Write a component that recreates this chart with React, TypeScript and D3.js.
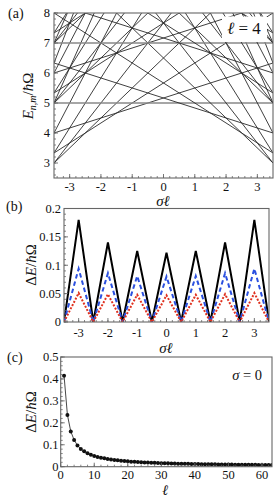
import React from "react";
import * as d3 from "d3";

// ---------- data ----------
// panel (a): level families E = band + k*(m^2 - 2 m σℓ)
const bandEnergies = [5, 7, 9];
const angularMomenta = [-10, -9, -8, -7, -6, -5, -4, -3, -2, -1, 0, 1, 2, 3, 4, 5, 6, 7, 8, 9, 10];
const levelCurvature = 0.1667;
const sigmaRange = [-3.5, 3.5];

// panel (b): gap vs σℓ
const gapX = [-3.5, -3, -2.5, -2, -1.5, -1, -0.5, 0, 0.5, 1, 1.5, 2, 2.5, 3, 3.5];
const gapBlack = [0, 0.18, 0, 0.14, 0, 0.125, 0, 0.122, 0, 0.125, 0, 0.14, 0, 0.18, 0];
const gapBlue = [0, 0.094, 0, 0.086, 0, 0.081, 0, 0.08, 0, 0.081, 0, 0.086, 0, 0.094, 0];
const gapRed = [0, 0.051, 0, 0.049, 0, 0.048, 0, 0.047, 0, 0.048, 0, 0.049, 0, 0.051, 0];

// panel (c): gap at σ=0 vs ℓ
const ells = [1,2,3,4,5,6,7,8,9,10,11,12,13,14,15,16,17,18,19,20,21,22,23,24,25,26,27,28,29,30,31,32,33,34,35,36,37,38,39,40,41,42,43,44,45,46,47,48,49,50,51,52,53,54,55,56,57,58,59,60,61,62,63,64];
const gapEll = [0.415,0.236,0.161,0.122,0.097,0.081,0.07,0.061,0.054,0.049,0.044,0.041,0.038,0.035,0.033,0.031,0.029,0.027,0.026,0.0245,0.023,0.022,0.021,0.02,0.0196,0.019,0.018,0.0175,0.017,0.016,0.0158,0.0153,0.0148,0.0144,0.014,0.0136,0.0132,0.0129,0.0126,0.0122,0.012,0.0117,0.0114,0.0111,0.0109,0.0106,0.0104,0.0102,0.01,0.0098,0.0096,0.0094,0.0092,0.0091,0.0089,0.0087,0.0086,0.0084,0.0083,0.0082,0.008,0.0079,0.0078,0.0077];

const ticksAX = [-3, -2, -1, 0, 1, 2, 3];
const ticksAY = [3, 4, 5, 6, 7, 8];
const ticksBY = [0, 0.05, 0.1, 0.15, 0.2];
const ticksCX = [0, 10, 20, 30, 40, 50, 60];
const ticksCY = [0, 0.1, 0.2, 0.3, 0.4, 0.5];

const FONT = "Liberation Serif, Times New Roman, DejaVu Serif, serif";
const FRAME = "#666";

function minorTicks(domain: number[], step: number) {
  const out: number[] = [];
  const s = Math.ceil(domain[0] / step - 1e-9);
  const e = Math.floor(domain[1] / step + 1e-9);
  for (let i = s; i <= e; i++) out.push(+(i * step).toFixed(6));
  return out;
}

const txt = (extra: any = {}) => ({ fontFamily: FONT, fill: "#111", ...extra });

function Frame({ x, y, xt, yt, xMinor, yMinor, xLabOff, yLabX }: any) {
  const [x0, x1] = x.range();
  const [y0, y1] = y.range(); // y0 bottom
  return (
    <g>
      {xMinor.map((v: number, i: number) => (
        <line key={"xm" + i} x1={x(v)} x2={x(v)} y1={y0} y2={y0 - 2} stroke={FRAME} strokeWidth={0.8} />
      ))}
      {yMinor.map((v: number, i: number) => (
        <line key={"ym" + i} x1={x0} x2={x0 + 2} y1={y(v)} y2={y(v)} stroke={FRAME} strokeWidth={0.8} />
      ))}
      {xt.map((v: number, i: number) => (
        <g key={"xt" + i}>
          <line x1={x(v)} x2={x(v)} y1={y0} y2={y0 - 4} stroke={FRAME} strokeWidth={0.9} />
          <text x={x(v)} y={y0 + xLabOff} textAnchor="middle" fontSize={12.5} style={txt()}>{String(v)}</text>
        </g>
      ))}
      {yt.map((v: number, i: number) => (
        <g key={"yt" + i}>
          <line x1={x0} x2={x0 + 4} y1={y(v)} y2={y(v)} stroke={FRAME} strokeWidth={0.9} />
          <text x={yLabX} y={y(v) + 4.3} textAnchor="end" fontSize={12.5} style={txt()}>{String(v)}</text>
        </g>
      ))}
      <rect x={x0} y={y1} width={x1 - x0} height={y0 - y1} fill="none" stroke={FRAME} strokeWidth={1.1} />
    </g>
  );
}

export default function App() {
  // panel a
  const xA = d3.scaleLinear().domain(sigmaRange).range([54, 273]);
  const yA = d3.scaleLinear().domain([2.5, 8]).range([178, 13]);
  const lineA = d3.line<number[]>().x((d) => xA(d[0])).y((d) => yA(d[1]));
  const levels: { d: string; flat: boolean }[] = [];
  bandEnergies.forEach((b) => {
    angularMomenta.forEach((m) => {
      const pts = sigmaRange.map((s) => [s, b + levelCurvature * (m * m - 2 * m * s)]);
      levels.push({ d: lineA(pts) as string, flat: m === 0 });
    });
  });

  // panel b
  const xB = d3.scaleLinear().domain(sigmaRange).range([64, 269]);
  const yB = d3.scaleLinear().domain([0, 0.2]).range([322, 208.5]);
  const lineB = d3.line<number>().x((_, i) => xB(gapX[i])).y((d) => yB(d));

  // panel c
  const xC = d3.scaleLinear().domain([0, 63]).range([60.7, 272]);
  const yC = d3.scaleLinear().domain([0, 0.5]).range([466.7, 357]);
  const lineC = d3.line<number>().x((_, i) => xC(ells[i])).y((d) => yC(d));

  return (
    <svg width={278} height={497} style={{ position: "absolute", left: 0, top: 0, background: "#fff" }}>
      <defs>
        <clipPath id="ca"><rect x={54} y={13} width={219} height={165} /></clipPath>
        <clipPath id="cb"><rect x={64} y={208.5} width={205} height={113.5} /></clipPath>
        <clipPath id="cc"><rect x={60.7} y={357} width={211.3} height={109.7} /></clipPath>
      </defs>

      {/* ---------- panel a ---------- */}
      <g clipPath="url(#ca)">
        {levels.map((l, i) => (
          <path key={i} d={l.d} fill="none" stroke={l.flat ? "#888" : "#2a2a2a"} strokeWidth={l.flat ? 1.7 : 0.9} />
        ))}
        <rect x={222} y={16.5} width={45} height={25.5} fill="#fff" />
      </g>
      <text x={244} y={34} textAnchor="middle" fontSize={17} style={txt()}>
        <tspan fontStyle="italic">ℓ</tspan> = 4
      </text>
      <Frame x={xA} y={yA} xt={ticksAX} yt={ticksAY} xMinor={minorTicks(sigmaRange, 0.2)} yMinor={minorTicks([2.5, 8], 0.2)} xLabOff={13} yLabX={50} />
      <text x={8} y={18} fontSize={14} style={txt()}>(a)</text>
      <text transform="translate(33,96) rotate(-90)" textAnchor="middle" fontSize={15} style={txt()}>
        <tspan fontStyle="italic">E</tspan>
        <tspan fontStyle="italic" fontSize={10} dy={3}>n,m</tspan>
        <tspan dy={-3}>/</tspan>
        <tspan fontStyle="italic">ħ</tspan>
        <tspan>Ω</tspan>
      </text>
      <text x={163} y={206} textAnchor="middle" fontSize={15} fontStyle="italic" style={txt()}>σℓ</text>

      {/* ---------- panel b ---------- */}
      <g clipPath="url(#cb)">
        <path d={lineB(gapBlack) as string} fill="none" stroke="#000" strokeWidth={2} strokeLinejoin="miter" />
        <path d={lineB(gapBlue) as string} fill="none" stroke="#2b50e0" strokeWidth={2} strokeDasharray="4.5,3" />
        <path d={lineB(gapRed) as string} fill="none" stroke="#e0301e" strokeWidth={2} strokeDasharray="2,1.6" />
      </g>
      <Frame x={xB} y={yB} xt={ticksAX} yt={ticksBY} xMinor={minorTicks(sigmaRange, 0.2)} yMinor={minorTicks([0, 0.2], 0.01)} xLabOff={15} yLabX={61} />
      <text x={6} y={211} fontSize={14} style={txt()}>(b)</text>
      <text transform="translate(36,265) rotate(-90)" textAnchor="middle" fontSize={15} style={txt()}>
        <tspan>Δ</tspan>
        <tspan fontStyle="italic">E</tspan>
        <tspan>/</tspan>
        <tspan fontStyle="italic">ħ</tspan>
        <tspan>Ω</tspan>
      </text>
      <text x={166} y={353} textAnchor="middle" fontSize={15} fontStyle="italic" style={txt()}>σℓ</text>

      {/* ---------- panel c ---------- */}
      <g clipPath="url(#cc)">
        <path d={lineC(gapEll) as string} fill="none" stroke="#333" strokeWidth={0.9} />
        {gapEll.map((v, i) => (
          <circle key={i} cx={xC(ells[i])} cy={yC(v)} r={2} fill="#111" />
        ))}
      </g>
      <Frame x={xC} y={yC} xt={ticksCX} yt={ticksCY} xMinor={minorTicks([0, 63], 2)} yMinor={minorTicks([0, 0.5], 0.02)} xLabOff={12} yLabX={58.5} />
      <text x={7} y={362} fontSize={14} style={txt()}>(c)</text>
      <text x={262} y={380} textAnchor="end" fontSize={14.5} style={txt()}>
        <tspan fontStyle="italic">σ</tspan> = 0
      </text>
      <text transform="translate(36,412) rotate(-90)" textAnchor="middle" fontSize={15} style={txt()}>
        <tspan>Δ</tspan>
        <tspan fontStyle="italic">E</tspan>
        <tspan>/</tspan>
        <tspan fontStyle="italic">ħ</tspan>
        <tspan>Ω</tspan>
      </text>
      <text x={165} y={495} textAnchor="middle" fontSize={14.5} fontStyle="italic" style={txt()}>ℓ</text>
    </svg>
  );
}
